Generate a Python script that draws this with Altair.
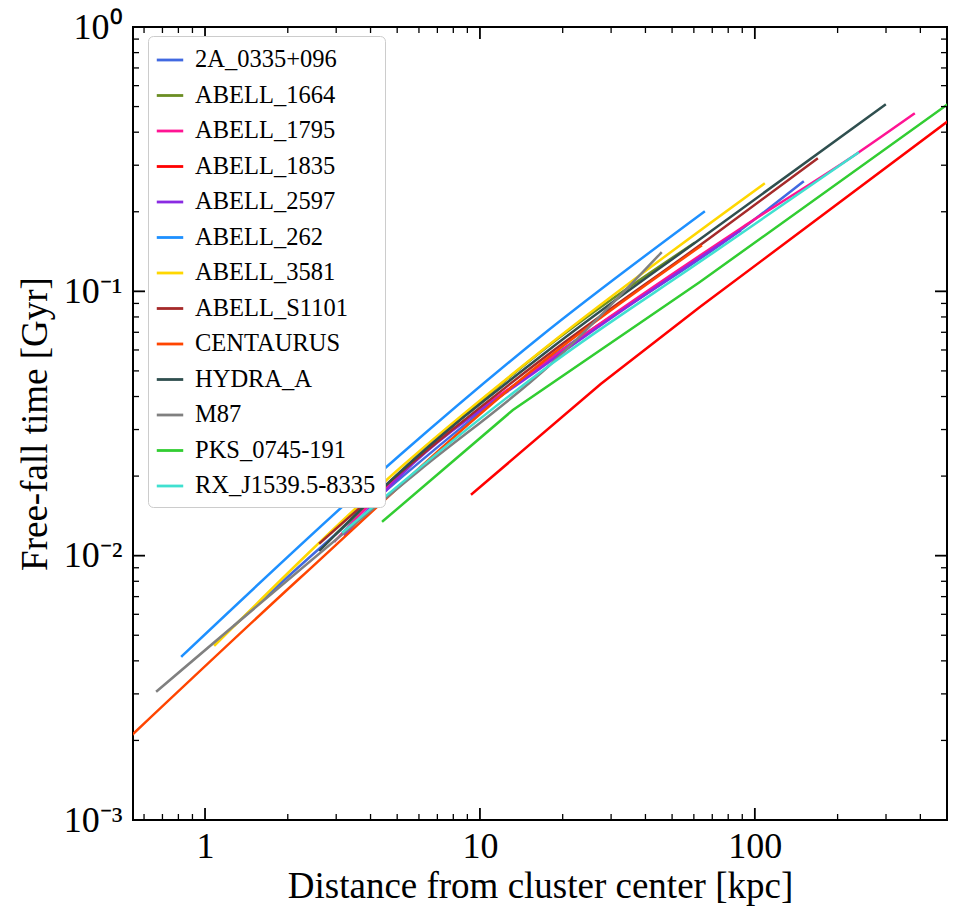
import altair as alt
import pandas as pd

# Cluster names (legend order) and their line colours
CLUSTERS = [
    "2A_0335+096", "ABELL_1664", "ABELL_1795", "ABELL_1835", "ABELL_2597",
    "ABELL_262", "ABELL_3581", "ABELL_S1101", "CENTAURUS", "HYDRA_A",
    "M87", "PKS_0745-191", "RX_J1539.5-8335",
]
COLORS = [
    "#4169E1", "#6B8E23", "#FF1493", "#FF0000", "#8A2BE2",
    "#1E90FF", "#FFD700", "#A52A2A", "#FF4500", "#2F4F4F",
    "#808080", "#32CD32", "#40E0D0",
]
# Profiles with a sharp break in slope are drawn piecewise-linear
KINKED = ["ABELL_1835", "PKS_0745-191"]

# Radius [kpc] and free-fall time [Gyr] profiles, one pair of lists per cluster
r_2a0335 = [1.285, 2.62, 17.24, 86.8, 149.5]
t_2a0335 = [0.00547, 0.01069, 0.0540, 0.1677, 0.2593]

r_a1664 = [3.0, 16.5, 60.0]
t_a1664 = [0.0121, 0.0586, 0.152]

r_a1795 = [2.97, 5.12, 17.24, 88.2, 236.9, 378.6]
t_a1795 = [0.01136, 0.02037, 0.05355, 0.1721, 0.3338, 0.4687]

r_a1835 = [9.35, 27.5, 63.1, 499.0]
t_a1835 = [0.01711, 0.04461, 0.0872, 0.4371]

r_a2597 = [3.23, 5.12, 17.24, 88.2]
t_a2597 = [0.01197, 0.02001, 0.05264, 0.1691]

r_a262 = [0.825, 5.12, 16.53, 65.25]
t_a262 = [0.004173, 0.02403, 0.0672, 0.1996]

r_a3581 = [1.087, 5.12, 17.24, 107.8]
t_a3581 = [0.004592, 0.02146, 0.06104, 0.2547]

r_as1101 = [2.62, 5.12, 17.24, 68.6, 168.1]
t_as1101 = [0.01117, 0.02055, 0.05643, 0.1591, 0.3167]

r_centaurus = [0.547, 2.215, 17.24, 63.64]
t_centaurus = [0.002115, 0.00823, 0.05497, 0.1484]

r_hydra = [2.62, 5.12, 17.24, 68.6, 297.0]
t_hydra = [0.0105, 0.02073, 0.05842, 0.1677, 0.5069]

r_m87 = [0.669, 6.05, 17.97, 45.51]
t_m87 = [0.003076, 0.02109, 0.05264, 0.1396]

r_pks = [4.44, 13.18, 63.1, 499.0]
t_pks = [0.01352, 0.03556, 0.1085, 0.5069]

r_rxj = [3.176, 17.97, 68.6, 236.9]
t_rxj = [0.01229, 0.05264, 0.1372, 0.3338]

PROFILES = [
    (r_2a0335, t_2a0335), (r_a1664, t_a1664), (r_a1795, t_a1795),
    (r_a1835, t_a1835), (r_a2597, t_a2597), (r_a262, t_a262),
    (r_a3581, t_a3581), (r_as1101, t_as1101), (r_centaurus, t_centaurus),
    (r_hydra, t_hydra), (r_m87, t_m87), (r_pks, t_pks), (r_rxj, t_rxj),
]

# Axis tick positions (major and minor), log axes
X_MAJOR = [1, 10, 100]
X_MINOR = [0.6, 0.7, 0.8, 0.9, 2, 3, 4, 5, 6, 7, 8, 9,
           20, 30, 40, 50, 60, 70, 80, 90, 200, 300, 400]
Y_MAJOR = [0.001, 0.01, 0.1, 1]
Y_MINOR = [m * d for d in (0.001, 0.01, 0.1) for m in range(2, 10)]

rows = []
for name, (rs, ts) in zip(CLUSTERS, PROFILES):
    for r, t in zip(rs, ts):
        rows.append({"cluster": name, "r": r, "t": t})
df = pd.DataFrame(rows)

W, H = 814, 793
FONT = "Liberation Serif"

xscale = alt.Scale(type="log", domain=[0.547, 500], nice=False)
yscale = alt.Scale(type="log", domain=[0.001, 1], nice=False)

y_label_expr = (
    "datum.value >= 0.5 ? '10\u2070' : "
    "datum.value >= 0.05 ? '10\u207b\u00b9' : "
    "datum.value >= 0.005 ? '10\u207b\u00b2' : '10\u207b\u00b3'"
)

x_axis = alt.Axis(
    values=X_MAJOR, format="d", title="Distance from cluster center [kpc]",
    titleY=77, titleBaseline="alphabetic", labelPadding=9,
)
y_axis = alt.Axis(
    values=Y_MAJOR, labelExpr=y_label_expr, title="Free-fall time [Gyr]",
    titleX=-87, titleBaseline="alphabetic", labelPadding=11,
)

color = alt.Color(
    "cluster:N",
    scale=alt.Scale(domain=CLUSTERS, range=COLORS),
    legend=alt.Legend(
        orient="none", legendX=15, legendY=9, title=None,
        symbolType="stroke", symbolSize=700, symbolStrokeWidth=2.8,
        symbolOffset=-2,
        labelFont=FONT, labelFontSize=24.5, labelColor="black",
        labelOffset=10, labelLimit=400, rowPadding=8.5, padding=9,
        fillColor="white", strokeColor="#cccccc", cornerRadius=5,
    ),
)

base = alt.Chart(df).encode(
    x=alt.X("r:Q", scale=xscale, axis=x_axis),
    y=alt.Y("t:Q", scale=yscale, axis=y_axis),
    color=color,
    detail="cluster:N",
)

smooth_lines = base.mark_line(
    strokeWidth=2.5, clip=True, strokeCap="square", interpolate="monotone"
).transform_filter(
    alt.FieldOneOfPredicate(field="cluster", oneOf=[c for c in CLUSTERS if c not in KINKED])
)
kinked_lines = base.mark_line(
    strokeWidth=2.5, clip=True, strokeCap="square", interpolate="linear"
).transform_filter(
    alt.FieldOneOfPredicate(field="cluster", oneOf=KINKED)
)


def x_ticks(values, length, width):
    tb = alt.Chart(pd.DataFrame({"r": values})).mark_rule(color="black", strokeWidth=width)
    bottom = tb.encode(x=alt.X("r:Q", scale=xscale, axis=x_axis),
                       y=alt.value(H), y2=alt.value(H - length))
    top = tb.encode(x=alt.X("r:Q", scale=xscale, axis=x_axis),
                    y=alt.value(0), y2=alt.value(length))
    return [bottom, top]


def y_ticks(values, length, width):
    tb = alt.Chart(pd.DataFrame({"t": values})).mark_rule(color="black", strokeWidth=width)
    left = tb.encode(y=alt.Y("t:Q", scale=yscale, axis=y_axis),
                     x=alt.value(0), x2=alt.value(length))
    right = tb.encode(y=alt.Y("t:Q", scale=yscale, axis=y_axis),
                      x=alt.value(W), x2=alt.value(W - length))
    return [left, right]


tick_layers = (
    x_ticks(X_MAJOR, 12, 1.8) + x_ticks(X_MINOR, 6, 1.3)
    + y_ticks(Y_MAJOR, 12, 1.8) + y_ticks(Y_MINOR, 6, 1.3)
)

chart = alt.layer(kinked_lines, smooth_lines, *tick_layers).properties(
    width=W, height=H,
    background="white",
    autosize=alt.AutoSizeParams(type="none"),
    padding={"left": 133, "top": 27, "right": 14, "bottom": 99},
).configure_view(
    stroke="black", strokeWidth=2,
).configure_axis(
    grid=False, ticks=False, tickSize=0, domain=False,
    labelFont=FONT, labelFontSize=36, labelColor="black",
    titleFont=FONT, titleFontSize=37, titleFontWeight="normal", titleColor="black",
)

chart.save("out.html", embed_options={"renderer": "svg", "actions": False})
